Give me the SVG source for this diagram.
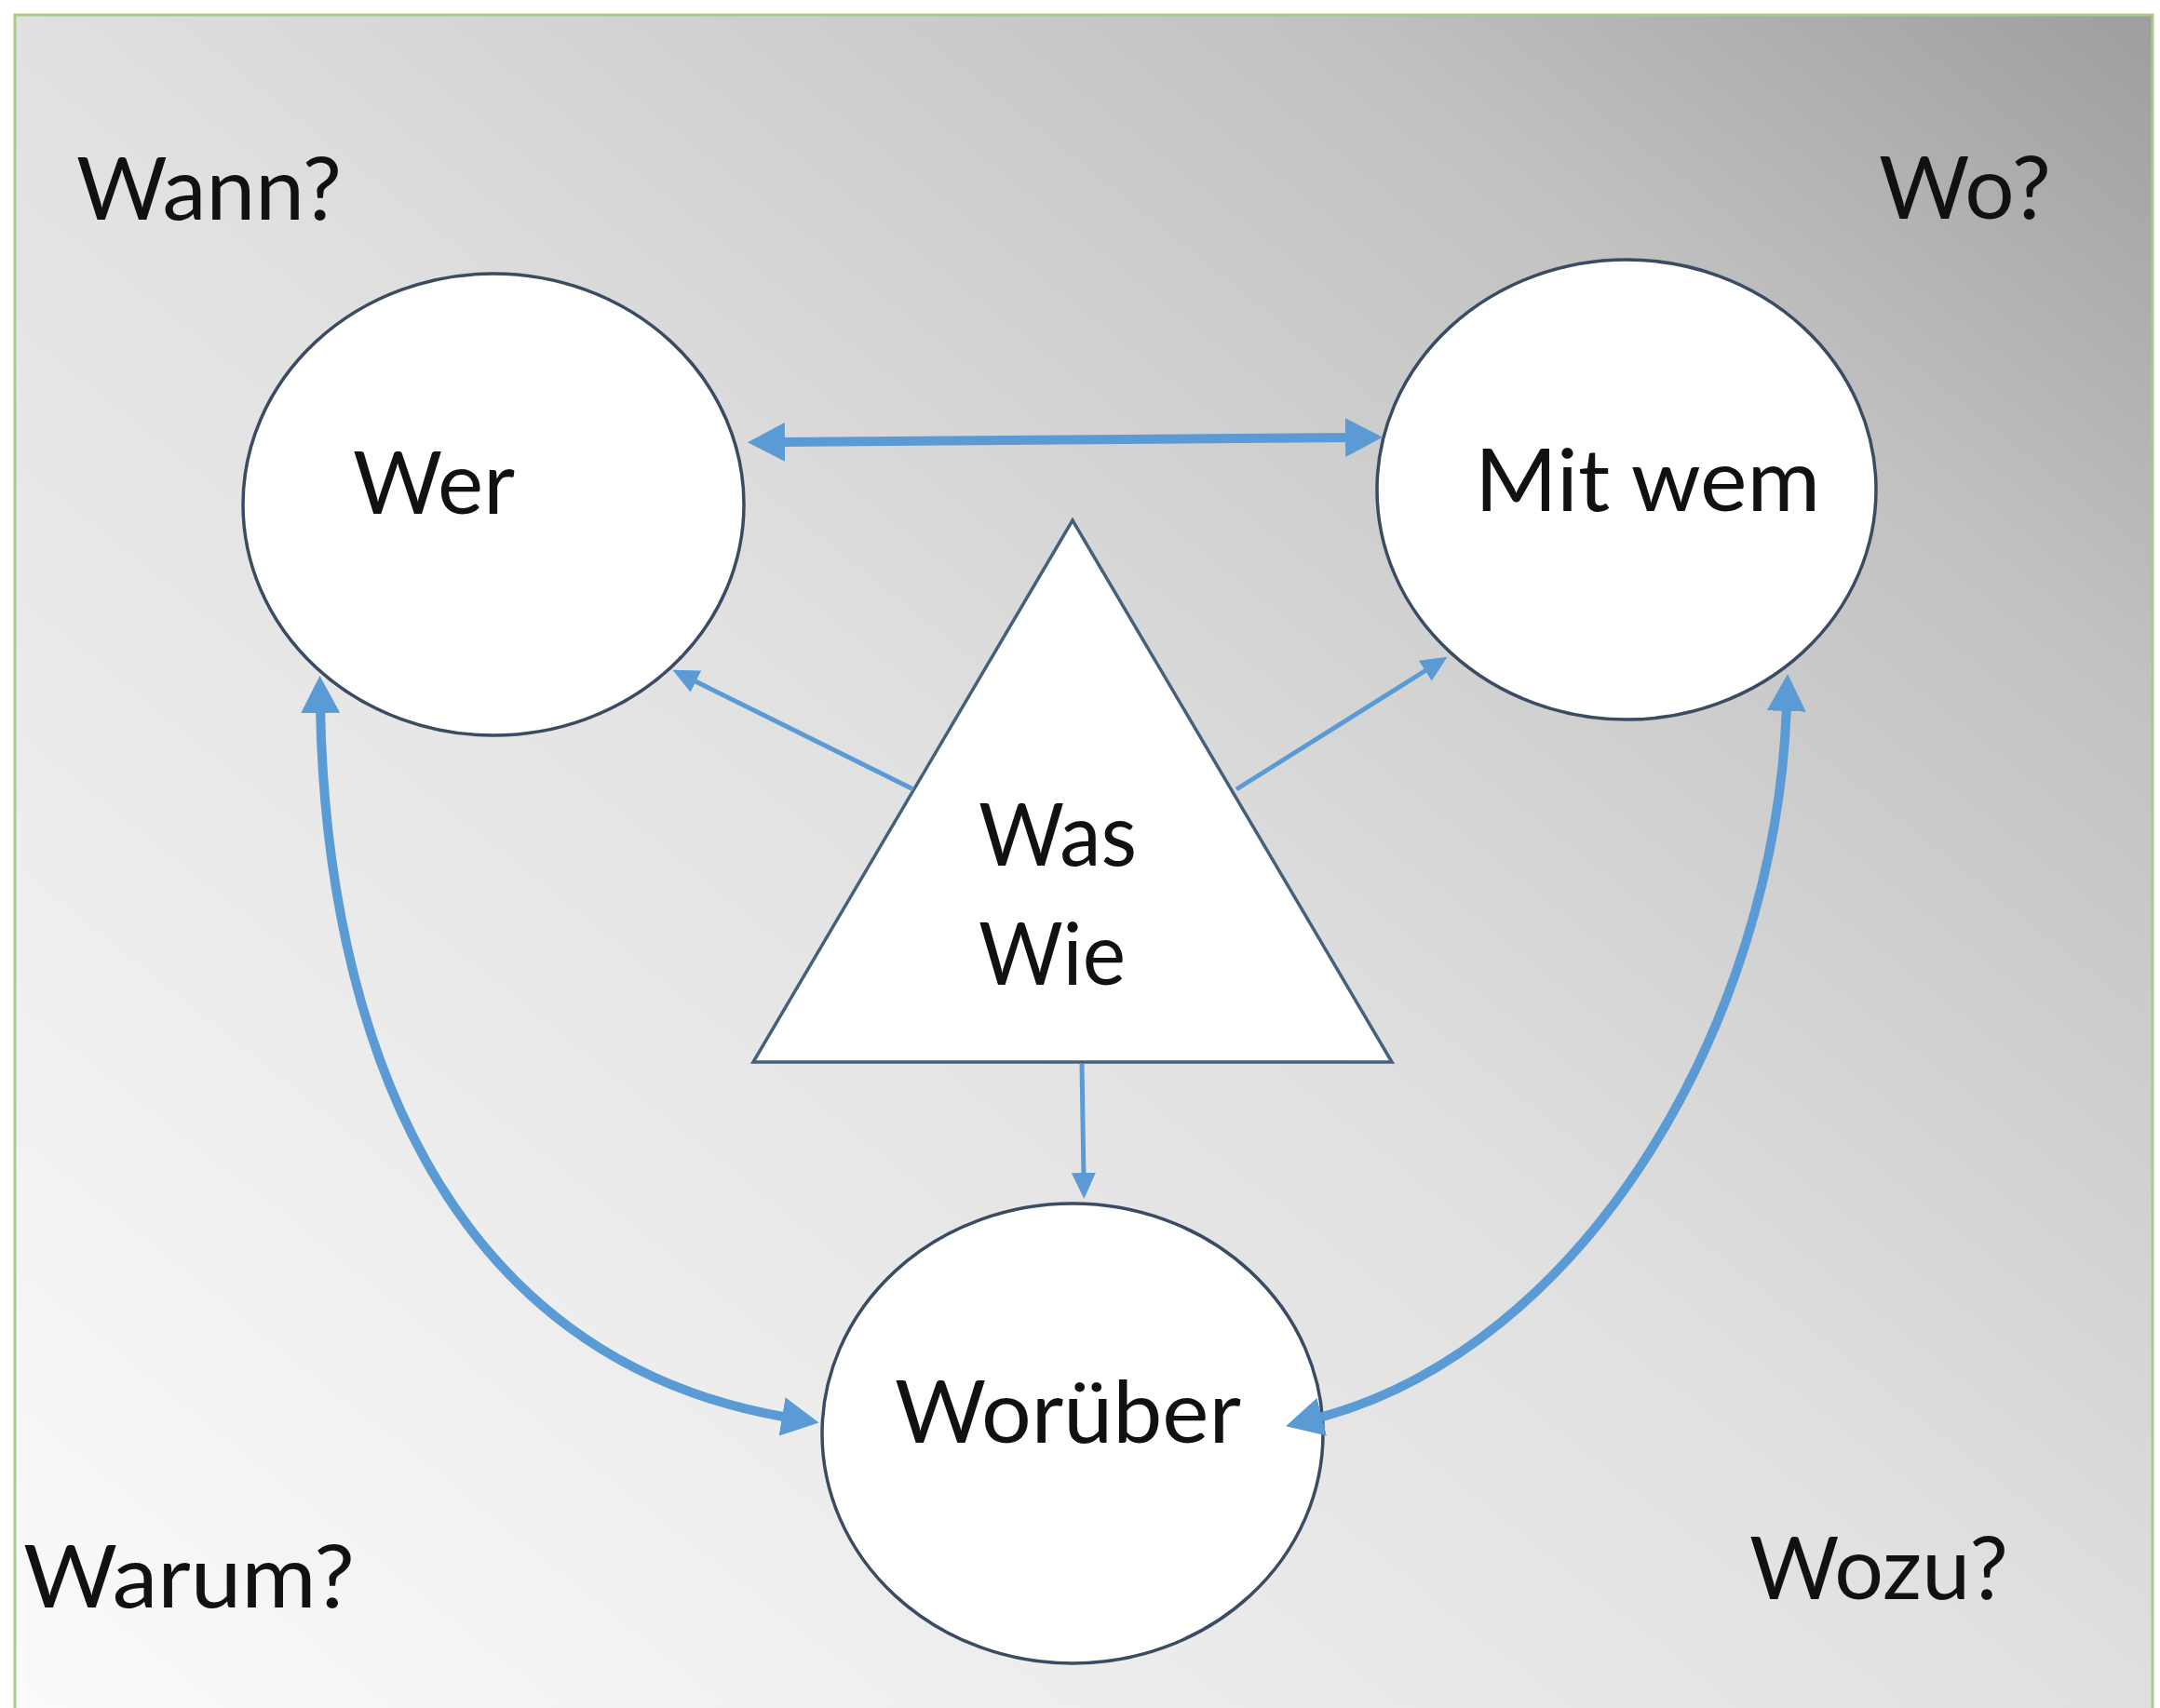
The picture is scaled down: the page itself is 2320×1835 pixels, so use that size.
<svg xmlns="http://www.w3.org/2000/svg" width="2320" height="1835" viewBox="0 0 2320 1835">
<defs>
<linearGradient id="bg" x1="0" y1="1" x2="1" y2="0">
<stop offset="0" stop-color="#fbfbfb"/>
<stop offset="0.5" stop-color="#e0e0e0"/>
<stop offset="0.8" stop-color="#c2c2c2"/>
<stop offset="1" stop-color="#9e9e9e"/>
</linearGradient>
<marker id="ah" markerUnits="userSpaceOnUse" viewBox="0 0 40 42" refX="7" refY="21" markerWidth="40" markerHeight="42" orient="auto-start-reverse">
<path d="M0,0 L40,21 L0,42 z" fill="#5b9bd5"/>
</marker>
<marker id="ahs" markerUnits="userSpaceOnUse" viewBox="0 0 28 26" refX="5" refY="13" markerWidth="28" markerHeight="26" orient="auto">
<path d="M0,0 L28,13 L0,26 z" fill="#5b9bd5"/>
</marker>
</defs>
<style>
.lbl{font-family:Lato,"Open Sans","Liberation Sans",sans-serif;font-size:94px;fill:#111111}
.node{fill:#ffffff;stroke:#3a4b62;stroke-width:3.5}
.tri{fill:#ffffff;stroke:#44607c;stroke-width:3.5}
.thick{fill:none;stroke:#5b9bd5;stroke-width:10;marker-start:url(#ah);marker-end:url(#ah)}
.thin{fill:none;stroke:#5b9bd5;stroke-width:5;marker-end:url(#ahs)}
</style>
<rect x="0" y="0" width="2320" height="1835" fill="#ffffff"/>
<rect id="frame" x="16" y="16" width="2296" height="1840" fill="url(#bg)" stroke="#a9c98c" stroke-width="3"/>
<g id="labels">
<text class="lbl" x="82" y="236" textLength="285" lengthAdjust="spacingAndGlyphs">Wann?</text>
<text class="lbl" x="2018" y="235" textLength="185" lengthAdjust="spacingAndGlyphs">Wo?</text>
<text class="lbl" x="25" y="1727" textLength="356" lengthAdjust="spacingAndGlyphs">Warum?</text>
<text class="lbl" x="1879" y="1718" textLength="278" lengthAdjust="spacingAndGlyphs">Wozu?</text>
</g>
<g id="node-wer">
<ellipse class="node" cx="530" cy="542" rx="269" ry="248"/>
<text class="lbl" x="379" y="552" textLength="174" lengthAdjust="spacingAndGlyphs">Wer</text>
</g>
<g id="node-mitwem">
<ellipse class="node" cx="1747" cy="526" rx="268" ry="247"/>
<text class="lbl" x="1584" y="549" textLength="371" lengthAdjust="spacingAndGlyphs">Mit wem</text>
</g>
<g id="node-worueber">
<ellipse class="node" cx="1152" cy="1540" rx="269" ry="247"/>
<text class="lbl" x="961" y="1550" textLength="372" lengthAdjust="spacingAndGlyphs">Worüber</text>
</g>
<g id="node-waswie">
<polygon class="tri" points="1152,559 809,1141 1495,1141"/>
<text class="lbl" x="1051" y="930" textLength="170" lengthAdjust="spacingAndGlyphs">Was</text>
<text class="lbl" x="1051" y="1058" textLength="158" lengthAdjust="spacingAndGlyphs">Wie</text>
</g>
<g id="connectors">
<path class="thick" d="M836,475 L1452,470"/>
<path class="thick" d="M344,759 C350,1100 470,1460 847,1523"/>
<path class="thick" d="M1919,757 C1908,1100 1700,1450 1413,1524"/>
<path class="thin" d="M981,848 L743,730"/>
<path class="thin" d="M1328,848 L1535,718"/>
<path class="thin" d="M1162,1143 L1164,1265"/>
</g>
</svg>
